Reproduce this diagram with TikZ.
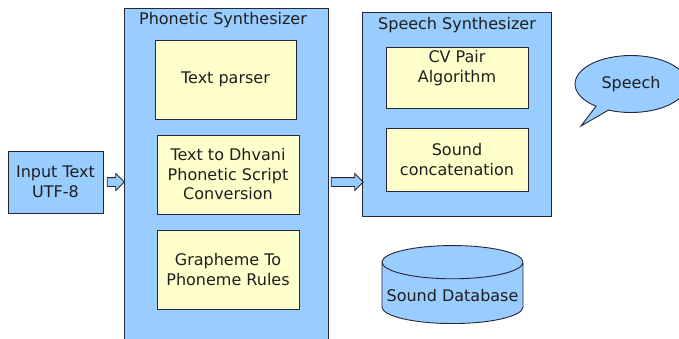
\documentclass[tikz,border=0pt]{standalone}
\usepackage{xcolor}
\usepackage{fontspec}
\setmainfont{DejaVu Sans}
\usepackage{tikz}
\usetikzlibrary{positioning,calc,shapes.arrows,shapes.callouts,shapes.geometric}

\definecolor{blockblue}{RGB}{153,204,255}
\definecolor{blockyellow}{RGB}{255,255,204}
\definecolor{edgeline}{RGB}{38,38,58}

\tikzset{
  outerbox/.style={draw=edgeline, fill=blockblue, line width=0.9pt, inner sep=0pt},
  innerbox/.style={draw=edgeline, fill=blockyellow, line width=0.9pt, inner sep=0pt,
    align=center, minimum width=142pt, minimum height=79pt},
  blockarrow/.style={single arrow, draw=edgeline, fill=blockblue, line width=0.8pt,
    inner sep=0pt, text height=4pt, text depth=4pt, single arrow head extend=4pt},
  boxtext/.style={font=\fontsize{16}{19.5}\selectfont, text=black!88}
}

\begin{document}
\begin{tikzpicture}[x=1pt,y=1pt,yscale=-1,xscale=1]
        \useasboundingbox (0,0) rectangle (679,339);
        \clip (0,0) rectangle (679,339);

        % input
        \node[outerbox, boxtext, align=center, minimum width=95pt, minimum height=62pt] (input) at (55.5,182) {Input Text\\UTF-8};

        % phonetic synthesizer
        \node[outerbox, minimum width=204pt, minimum height=342pt] (phon) at (226,179) {};
        \node[boxtext] (phontitle) at (223,20) {Phonetic Synthesizer};
        \node[innerbox, boxtext, minimum width=141pt] (parser) at (225.5,79.5) {Text parser};
        \node[innerbox, boxtext] (dhvani) at (228,174.5) {Text to Dhvani\\Phonetic Script\\Conversion};
        \node[innerbox, boxtext] (grapheme) at (228,269.5) {Grapheme To\\Phoneme Rules};

        % speech synthesizer
        \node[outerbox, minimum width=189pt, minimum height=204pt] (speechsyn) at (456.5,114) {};
        \node[boxtext] (speechtitle) at (457,25) {Speech Synthesizer};
        \node[innerbox, minimum height=61pt] (cvbox) at (457,77.5) {};
        \node[boxtext, align=center] (cvpair) at (457,68) {CV Pair\\Algorithm};
        \node[innerbox, boxtext, minimum height=63pt] (concat) at (457,159.5) {Sound\\concatenation};

        % block arrows
        \node[blockarrow, minimum height=17pt] (arrin) at ($(input.east)!.5!(input.east -| phon.west)$) {};
        \node[blockarrow, minimum height=32pt] (arrout) at ($(phon.east |- arrin)!.5!(speechsyn.west |- arrin)$) {};

        % output and database
        \node[ellipse callout, draw=edgeline, fill=blockblue, line width=0.9pt, boxtext,
              minimum width=112pt, minimum height=57pt, callout absolute pointer={(581,126)}] (speech) at (631,84) {Speech};
        \node[cylinder, shape border rotate=90, aspect=0.24, draw=edgeline, fill=blockblue, line width=0.9pt, boxtext,
              minimum width=141pt, minimum height=78pt, anchor=south] (sounddb) at (452.5,324) {Sound Database};
\end{tikzpicture}
\end{document}
